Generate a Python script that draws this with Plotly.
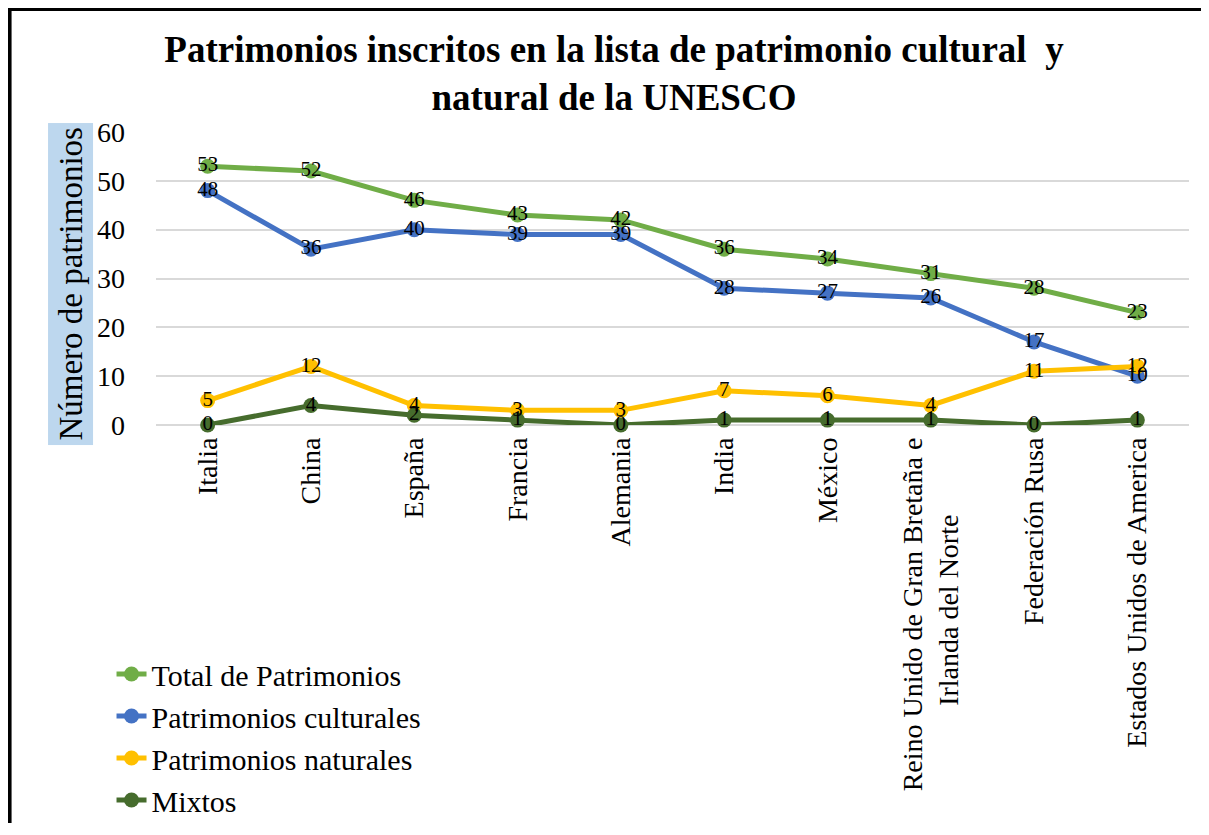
import plotly.graph_objects as go

NB = "\u00a0"
categories = ["Italia", "China", "España", "Francia", "Alemania", "India", "México",
              "Reino Unido de Gran Bretaña e<br>Irlanda del Norte" + NB * 11, "Federación Rusa",
              "Estados Unidos de America"]
total = [53, 52, 46, 43, 42, 36, 34, 31, 28, 23]
culturales = [48, 36, 40, 39, 39, 28, 27, 26, 17, 10]
naturales = [5, 12, 4, 3, 3, 7, 6, 4, 11, 12]
mixtos = [0, 4, 2, 1, 0, 1, 1, 1, 0, 1]

series = [
    ("Total de Patrimonios", total, "#70AD47"),
    ("Patrimonios culturales", culturales, "#4472C4"),
    ("Patrimonios naturales", naturales, "#FFC000"),
    ("Mixtos", mixtos, "#466C2D"),
]

FONT = "Liberation Serif, Times New Roman, serif"
OFF = 8  # page body margin
W, H = 1193, 815
L, R, T = 147.5, 12, 124
B = H - 417
PW, PH = W - L - R, H - T - B

def px_x(x):  # page px -> paper
    return (x - OFF - L) / PW

def px_y(y):
    return (H - B - (y - OFF)) / PH

fig = go.Figure()
for name, vals, col in series:
    fig.add_trace(go.Scatter(
        x=categories, y=vals, name=name, mode="lines+markers",
        line=dict(color=col, width=5), marker=dict(color=col, size=15),
        cliponaxis=False,
    ))
for name, vals, col in series:
    fig.add_trace(go.Scatter(
        x=categories, y=vals, mode="text", text=[str(v) for v in vals],
        textposition="middle center", textfont=dict(family=FONT, size=21, color="#000000"),
        showlegend=False, hoverinfo="skip", cliponaxis=False,
    ))

fig.update_layout(
    width=W, height=H,
    margin=dict(l=L, r=R, t=T, b=B, autoexpand=False),
    paper_bgcolor="white", plot_bgcolor="white",
    font=dict(family=FONT, color="#000000"),
    title=dict(
        text="<b>Patrimonios inscritos en la lista de patrimonio cultural  y<br>natural de la UNESCO</b>",
        font=dict(family=FONT, size=37, color="#000000"),
        x=(614 - OFF) / W, xanchor="center", y=1 - 54 / H, yanchor="top", yref="container",
    ),
    xaxis=dict(
        type="category", range=[-0.5, 9.5], showgrid=False, zeroline=False,
        showline=False, ticks="", tickangle=-90,
        tickfont=dict(family=FONT, size=28, color="#000000"),
        ticklabelstandoff=6,
    ),
    yaxis=dict(
        range=[0, 60], dtick=10, showgrid=True, gridcolor="#D9D9D9", gridwidth=1.5,
        zeroline=True, zerolinecolor="#D9D9D9", zerolinewidth=1.5,
        showline=False, ticks="",
        tickfont=dict(family=FONT, size=28, color="#000000"),
        ticklabelstandoff=30,
    ),
    legend=dict(
        x=px_x(111), xanchor="left", y=px_y(648), yanchor="top",
        font=dict(family=FONT, size=30, color="#000000"),
        bgcolor="rgba(0,0,0,0)", tracegroupgap=0,
    ),
    showlegend=True,
)

fig.add_annotation(
    text="Número de patrimonios", textangle=-90,
    xref="paper", yref="paper", x=px_x(70), y=px_y(284),
    xanchor="center", yanchor="middle", showarrow=False,
    font=dict(family=FONT, size=33, color="#000000"),
    bgcolor="#BDD7EE", borderpad=4,
)

# frame: only left and top edges are visible in the reference (open path)
xl, yb, yt, xr = px_x(9), px_y(H + OFF + 30), px_y(9), px_x(1240)
fig.add_shape(type="path", xref="paper", yref="paper",
              path=f"M {xl},{yb} L {xl},{yt} L {xr},{yt}",
              line=dict(color="#000000", width=4), fillcolor="rgba(0,0,0,0)",
              layer="above")

fig.write_html("out.html")
